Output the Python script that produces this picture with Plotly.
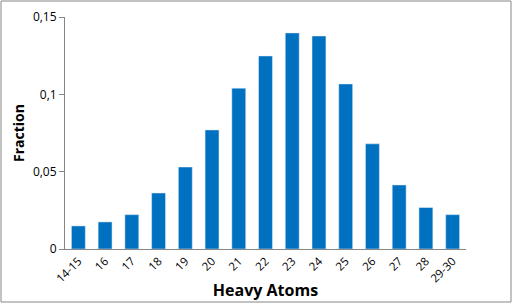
import plotly.graph_objects as go

categories = ["14-15", "16", "17", "18", "19", "20", "21", "22", "23", "24", "25", "26", "27", "28", "29-30"]
fractions = [0.0149, 0.0175, 0.0222, 0.0362, 0.0530, 0.0770, 0.1040, 0.1248, 0.1397, 0.1377, 0.1067, 0.0680, 0.0414, 0.0268, 0.0222]
y_ticks = [0, 0.05, 0.1, 0.15]

W, H = 513, 304
ml, mr, mt, mb = 65, 47, 17, 55

fig = go.Figure(go.Bar(x=categories, y=fractions, marker_color="#0070C0", width=0.52))

pw = W - ml - mr
ph = H - mt - mb
fig.add_shape(type="rect", xref="paper", yref="paper",
              x0=(1 - ml) / pw, x1=1 + (mr - 2) / pw,
              y0=-(mb - 2) / ph, y1=1 + (mt - 1) / ph,
              line=dict(color="#868686", width=1))

fig.update_layout(
    width=W, height=H,
    margin=dict(l=ml, r=mr, t=mt, b=mb, autoexpand=False),
    paper_bgcolor="white", plot_bgcolor="white",
    separators=", ",
    font=dict(family="Open Sans, Liberation Sans", size=12, color="black"),
    showlegend=False,
    bargap=0.48,
)
fig.update_xaxes(
    type="category", tickangle=-45, showline=True, linecolor="#868686", linewidth=1,
    ticks="", tickfont=dict(size=11.5), automargin=False,
    title=dict(text="<b>Heavy Atoms</b>", font=dict(size=16), standoff=0),
)
fig.update_yaxes(
    range=[0, 0.15], tickvals=y_ticks, showgrid=False, zeroline=False,
    showline=True, linecolor="#868686", linewidth=1,
    ticks="outside", ticklen=5, tickcolor="#868686",
    tickfont=dict(size=12), automargin=False,
    title=dict(text="<b>Fraction</b>", font=dict(size=14), standoff=4),
)

fig.write_html("out.html")
